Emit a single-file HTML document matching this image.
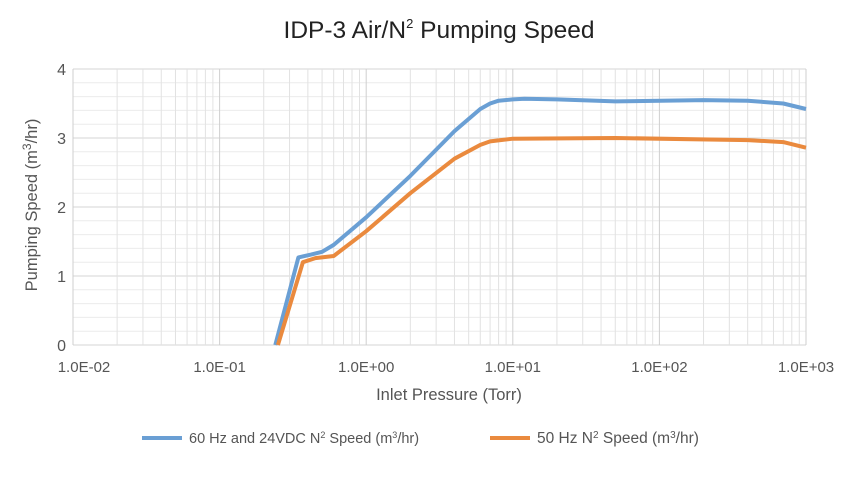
<!DOCTYPE html>
<html><head><meta charset="utf-8"><style>
body{margin:0;background:#fff;width:844px;height:475px;overflow:hidden;font-family:"Liberation Sans",sans-serif}
svg text{font-family:"Liberation Sans",sans-serif;fill:#555}
</style></head><body>
<svg id="s" width="844" height="475" xmlns="http://www.w3.org/2000/svg">
<text x="439" y="38" text-anchor="middle" font-size="24.5" style="fill:#222">IDP-3 Air/N<tspan font-size="13" dy="-10">2</tspan><tspan dy="10"> Pumping Speed</tspan></text>
<g id="grid"></g>
<g id="lab" font-size="15"></g>
<text transform="translate(37,205) rotate(-90)" text-anchor="middle" font-size="16.5">Pumping Speed (m<tspan font-size="12" dy="-6">3</tspan><tspan dy="6">/hr)</tspan></text>
<text x="449" y="400" text-anchor="middle" font-size="16.5">Inlet Pressure (Torr)</text>
<line x1="142" y1="438" x2="182" y2="438" stroke="#6a9fd4" stroke-width="4"/>
<text x="189" y="443" font-size="14.5">60 Hz and 24VDC N<tspan font-size="9" dy="-5">2</tspan><tspan dy="5"> Speed (m</tspan><tspan font-size="9" dy="-5">3</tspan><tspan dy="5">/hr)</tspan></text>
<line x1="490" y1="438" x2="530" y2="438" stroke="#ea8a3e" stroke-width="4"/>
<text x="537" y="443" font-size="15.5">50 Hz N<tspan font-size="10" dy="-5">2</tspan><tspan dy="5"> Speed (m</tspan><tspan font-size="10" dy="-5">3</tspan><tspan dy="5">/hr)</tspan></text>
<path id="b" fill="none" stroke="#6a9fd4" stroke-width="4" stroke-linejoin="round"/>
<path id="o" fill="none" stroke="#ea8a3e" stroke-width="4" stroke-linejoin="round"/>
</svg>
<script>
var L=73,D=146.6,Z=345,U=69;
function X(p){return L+D*(Math.log10(p)+2)}
function Y(v){return Z-U*v}
var g='';
for(var v=0;v<=4.001;v+=0.2){var major=Math.abs(v-Math.round(v))<1e-6;g+='<line x1="'+L+'" x2="'+X(1000)+'" y1="'+Y(v)+'" y2="'+Y(v)+'" stroke="'+(major?'#d4d4d4':'#ececec')+'"/>';}
for(var e=-2;e<=3;e++){for(var m=1;m<=9;m++){if(e==3&&m>1)break;var x=X(m*Math.pow(10,e));g+='<line x1="'+x+'" x2="'+x+'" y1="'+Y(4)+'" y2="'+Z+'" stroke="'+(m==1?'#cfcfcf':'#e2e2e2')+'"/>';}}
document.getElementById('grid').innerHTML=g;
var lb='';
for(var v=0;v<=4;v++)lb+='<text x="66" y="'+(Y(v)+6)+'" text-anchor="end" font-size="16">'+v+'</text>';
var t=['1.0E-02','1.0E-01','1.0E+00','1.0E+01','1.0E+02','1.0E+03'];
for(var i=0;i<6;i++)lb+='<text x="'+(X(Math.pow(10,i-2))+(i==0?11:0))+'" y="372" text-anchor="middle">'+t[i]+'</text>';
document.getElementById('lab').innerHTML=lb;
function P(a){return 'M'+a.map(function(q){return X(q[0]).toFixed(1)+','+Y(q[1]).toFixed(1)}).join(' L')}
document.getElementById('b').setAttribute('d',P([[0.24,0],[0.345,1.27],[0.42,1.31],[0.5,1.35],[0.6,1.45],[1,1.85],[2,2.45],[4,3.1],[6,3.42],[7,3.5],[8,3.54],[10,3.56],[12,3.57],[20,3.56],[50,3.53],[200,3.55],[400,3.54],[700,3.5],[1000,3.42]]));
document.getElementById('o').setAttribute('d',P([[0.25,0],[0.37,1.2],[0.45,1.26],[0.6,1.29],[1,1.65],[2,2.2],[4,2.7],[6,2.9],[7,2.95],[10,2.99],[50,3.0],[400,2.97],[700,2.94],[1000,2.86]]));
</script>
</body></html>
